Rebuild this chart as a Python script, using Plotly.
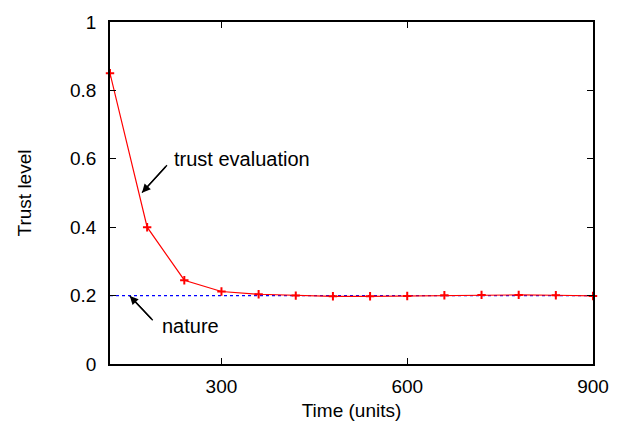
import plotly.graph_objects as go

time_units = [120, 180, 240, 300, 360, 420, 480, 540, 600, 660, 720, 780, 840, 900]
trust_eval = [0.85, 0.40, 0.245, 0.212, 0.204, 0.200, 0.198, 0.198, 0.199, 0.201, 0.202, 0.202, 0.201, 0.199]
nature_x = [120, 900]
nature_y = [0.2, 0.2]
x_ticks = [300, 600, 900]
y_ticks = [0, 0.2, 0.4, 0.6, 0.8, 1]
y_tick_labels = ["0", "0.2", "0.4", "0.6", "0.8", "1"]

font = dict(family="Liberation Sans, Arial, Helvetica, sans-serif", size=19, color="black")
ann_font = dict(family="Liberation Sans, Arial, Helvetica, sans-serif", size=20, color="black")

fig = go.Figure()
fig.add_trace(go.Scatter(x=nature_x, y=nature_y, mode="lines",
                         line=dict(color="blue", width=1.2, dash="dot"), showlegend=False))
fig.add_trace(go.Scatter(x=time_units, y=trust_eval, mode="lines+markers",
                         line=dict(color="red", width=1.2),
                         marker=dict(symbol="cross-thin", size=6, line=dict(color="red", width=2)),
                         showlegend=False, cliponaxis=False))

# arrows: (head_x, head_y, tail_x, tail_y) in data units
arrows = [(171.7, 0.501, 212, 0.581), (152, 0.199, 189, 0.128)]
for hx, hy, tx, ty in arrows:
    fig.add_trace(go.Scatter(x=[tx, hx], y=[ty, hy], mode="lines",
                             line=dict(color="black", width=1.3), showlegend=False,
                             hoverinfo="skip"))
    fig.add_annotation(x=hx, y=hy, ax=tx, ay=ty, xref="x", yref="y", axref="x", ayref="y",
                       showarrow=True, arrowhead=2, arrowsize=1.3, arrowwidth=1.3,
                       arrowcolor="black", text="")

fig.add_annotation(x=220, y=0.598, xref="x", yref="y", text="trust evaluation", showarrow=False,
                   xanchor="left", yanchor="middle", font=ann_font)
fig.add_annotation(x=201, y=0.111, xref="x", yref="y", text="nature", showarrow=False,
                   xanchor="left", yanchor="middle", font=ann_font)

fig.update_layout(
    width=627, height=430,
    margin=dict(l=110, r=34, t=16, b=63),
    paper_bgcolor="white", plot_bgcolor="white",
    font=font,
    xaxis=dict(range=[120, 900], tickvals=x_ticks, ticks="inside", ticklen=6, tickcolor="black",
               showline=True, linecolor="black", linewidth=1.5, mirror="ticks", showgrid=False,
               zeroline=False, tickfont=font, ticklabelstandoff=4,
               title=dict(text="Time (units)", font=font, standoff=8)),
    yaxis=dict(range=[0, 1], tickvals=y_ticks, ticktext=y_tick_labels, ticks="inside", ticklen=6,
               tickcolor="black", showline=True, linecolor="black", linewidth=1.5, mirror="ticks",
               showgrid=False, zeroline=False, tickfont=font, ticklabelstandoff=8,
               title=dict(text="Trust level", font=font, standoff=33)),
)

fig.write_html("out.html")
